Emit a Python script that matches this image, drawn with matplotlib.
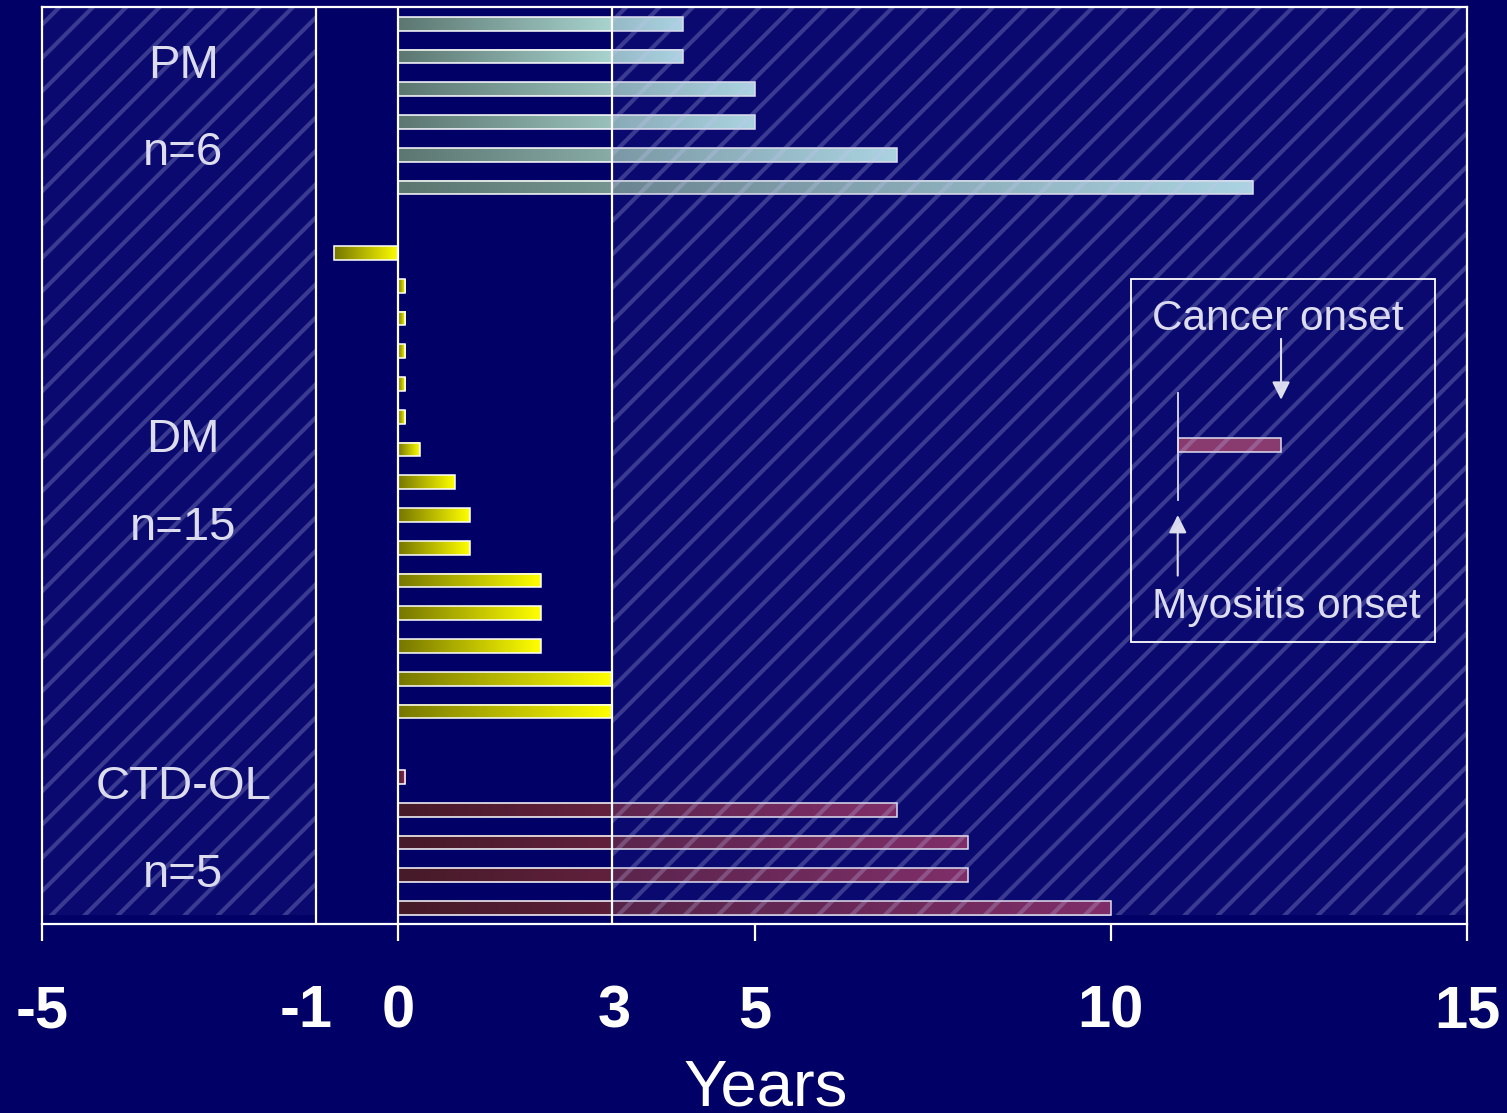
"""
Time from myositis onset to cancer onset, per patient, grouped by subtype.
"""

import numpy as np
import matplotlib
matplotlib.use("Agg")
import matplotlib.pyplot as plt
from matplotlib.colors import LinearSegmentedColormap
from matplotlib.patches import Rectangle

plt.rcParams["font.family"] = ["Liberation Sans", "DejaVu Sans"]
plt.rcParams["hatch.linewidth"] = 3.0

# years between myositis onset and cancer onset
pm_years = [4, 4, 5, 5, 7, 12]
dm_years = [-0.9, 0.1, 0.1, 0.1, 0.1, 0.1, 0.3, 0.8, 1, 1, 2, 2, 2, 3, 3]
ctd_years = [0.1, 7, 8, 8, 10]

group_names = ["PM", "DM", "CTD-OL"]
group_counts = ["n=6", "n=15", "n=5"]

major_ticks = [-5, 0, 5, 10, 15]
major_labels = ["-5", "0", "5", "10", "15"]
minor_labels = ["-1", "3"]

NAVY = "#000066"
BAR_H = 0.42

group_cmaps = [
    LinearSegmentedColormap.from_list("pm", ["#5c7670", "#c2f2ee"]),
    LinearSegmentedColormap.from_list("dm", ["#767600", "#ffff00"]),
    LinearSegmentedColormap.from_list("ctd", ["#461a28", "#8e2c5e"]),
]

fig = plt.figure(figsize=(15.07, 11.13), dpi=100, facecolor=NAVY)
ax = fig.add_axes([42 / 1507, 188.6 / 1113, 1425 / 1507, 917 / 1113])
ax.set_facecolor(NAVY)

gradient = np.linspace(0, 1, 256).reshape(1, -1)


def draw_bar(y, value, cmap):
    x0, x1 = min(0, value), max(0, value)
    ax.imshow(gradient, cmap=cmap, aspect="auto", interpolation="bicubic",
              extent=(x0, x1, y + BAR_H / 2, y - BAR_H / 2), zorder=2)
    ax.add_patch(Rectangle((x0, y - BAR_H / 2), x1 - x0, BAR_H, fill=False,
                           edgecolor="white", linewidth=1.1, zorder=3))


# one empty slot between groups
slot = 0
label_slots = []
for years, cmap in zip([pm_years, dm_years, ctd_years], group_cmaps):
    first = slot
    for v in years:
        draw_bar(slot, v, cmap)
        slot += 1
    label_slots.append((first + slot - 1) / 2)
    slot += 1

label_offsets = [(-1.2, 1.45), (-1.3, 1.4), (-1.7, 1.0)]
for name, count, mid, (dy1, dy2) in zip(group_names, group_counts, label_slots, label_offsets):
    ax.text(-3.02, mid + dy1, name, color="white", fontsize=34,
            ha="center", va="center", zorder=3)
    ax.text(-3.02, mid + dy2, count, color="white", fontsize=34,
            ha="center", va="center", zorder=3)

# legend box explaining the bars
ax.text(12.35, 9.0, "Cancer onset", color="white", fontsize=30.5,
        ha="center", va="center", zorder=3)
ax.text(12.46, 17.8, "Myositis onset", color="white", fontsize=30.5,
        ha="center", va="center", zorder=3)
ax.add_patch(Rectangle((10.94, 12.86 - BAR_H / 2), 1.45, BAR_H, facecolor="#9a3a66",
                       edgecolor="white", linewidth=1.1, zorder=3))
ax.plot([10.94, 10.94], [11.27, 14.54], color="white", linewidth=1.3, zorder=3)
arrow = dict(arrowstyle="-|>", color="white", lw=1.5, mutation_scale=27,
             shrinkA=0, shrinkB=0)
ax.annotate("", xy=(12.39, 11.48), xytext=(12.39, 9.62), arrowprops=arrow, zorder=3)
ax.annotate("", xy=(10.94, 15.0), xytext=(10.94, 16.85), arrowprops=arrow, zorder=3)

# shaded regions outside the -1 to 3 year window
for x0, x1 in [(-5, -1.16), (3.0, 15)]:
    ax.add_patch(Rectangle((x0, -0.5), x1 - x0, 27.7, facecolor=(59 / 255, 59 / 255, 159 / 255, 0.17),
                           linewidth=0, zorder=4))
    ax.add_patch(Rectangle((x0, -0.5), x1 - x0, 27.7, fill=False, hatch="/",
                           edgecolor=(200 / 255, 200 / 255, 245 / 255, 0.26),
                           linewidth=0, zorder=4.1))

ax.add_patch(Rectangle((10.28, 7.79), 4.27, 11.09, fill=False, edgecolor="white",
                       linewidth=1.3, zorder=5))

for x in [-1.15, 0, 3]:
    ax.axvline(x, color="white", linewidth=1.6, zorder=5)

ax.set_xlim(-5, 15)
ax.set_ylim(27.5, -0.5)

for side in ["top", "bottom", "left", "right"]:
    ax.spines[side].set_color("white")
    ax.spines[side].set_linewidth(1.6)
    ax.spines[side].set_zorder(6)

ax.set_yticks([])
ax.set_xticks(major_ticks)
ax.set_xticklabels(major_labels)
ax.set_xticks([-1.3, 3.03], minor=True)
ax.set_xticklabels(minor_labels, minor=True)
ax.tick_params(axis="x", which="major", colors="white", length=12, width=1.6,
               pad=31, labelsize=43)
ax.tick_params(axis="x", which="minor", colors="white", length=0,
               pad=43, labelsize=43)
for lbl in ax.get_xticklabels(which="both"):
    lbl.set_fontweight("bold")

fig.text(766 / 1507, 8 / 1113, "Years", color="white", fontsize=47,
         ha="center", va="baseline")

fig.savefig("out.png", dpi=100, facecolor=NAVY)
